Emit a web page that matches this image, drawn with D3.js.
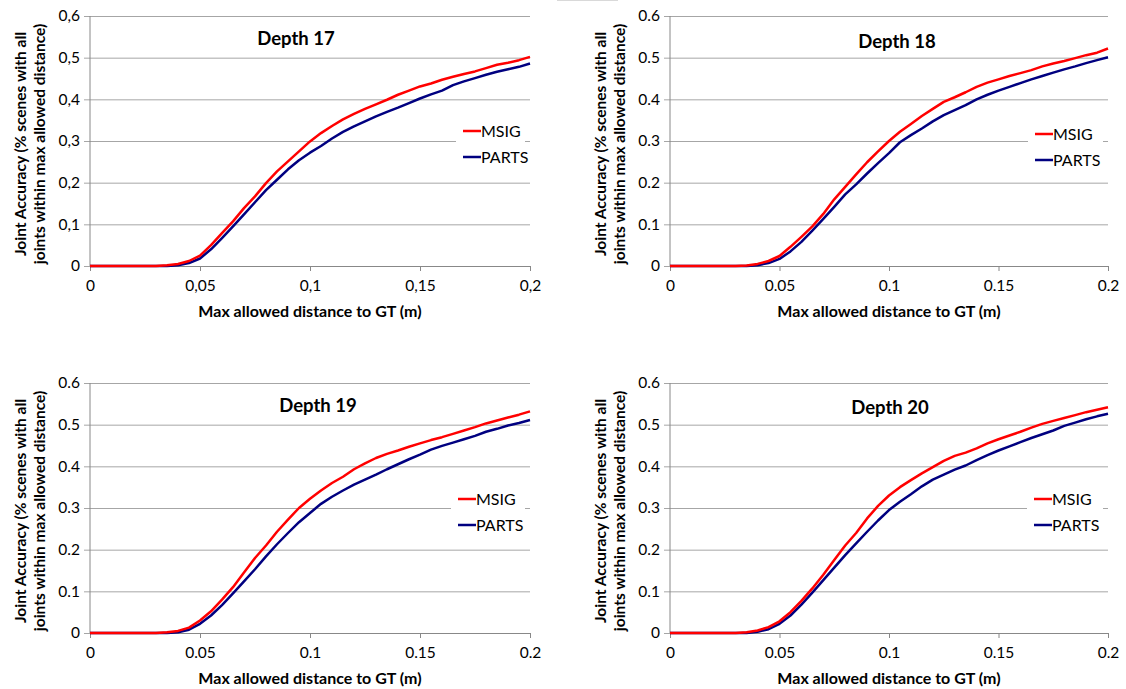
<!DOCTYPE html>
<html>
<head>
<meta charset="utf-8">
<script src="https://cdn.jsdelivr.net/npm/d3@7"></script>
<style>
  body { margin: 0; background: #fff; }
  svg { display: block; font-family: Lato, "Open Sans", sans-serif; }
</style>
</head>
<body>
<svg id="chart" width="1126" height="689"></svg>
<script>
// max allowed distance (m)
var distance = [0, 0.005, 0.01, 0.015, 0.02, 0.025, 0.03, 0.035, 0.04, 0.045,
  0.05, 0.055, 0.06, 0.065, 0.07, 0.075, 0.08, 0.085, 0.09, 0.095,
  0.1, 0.105, 0.11, 0.115, 0.12, 0.125, 0.13, 0.135, 0.14, 0.145,
  0.15, 0.155, 0.16, 0.165, 0.17, 0.175, 0.18, 0.185, 0.19, 0.195, 0.2];

var msig17 = [0, 0, 0, 0, 0, 0, 0, 0.002, 0.005, 0.012,
  0.025, 0.05, 0.079, 0.107, 0.139, 0.167, 0.199, 0.227, 0.251, 0.275,
  0.299, 0.319, 0.336, 0.352, 0.365, 0.377, 0.388, 0.399, 0.411, 0.421,
  0.431, 0.438, 0.447, 0.454, 0.461, 0.467, 0.475, 0.483, 0.488, 0.494, 0.502];
var parts17 = [0, 0, 0, 0, 0, 0, 0, 0, 0.002, 0.007,
  0.018, 0.04, 0.067, 0.095, 0.124, 0.153, 0.182, 0.207, 0.232, 0.254,
  0.272, 0.288, 0.306, 0.322, 0.335, 0.347, 0.359, 0.37, 0.38, 0.391,
  0.402, 0.412, 0.421, 0.434, 0.443, 0.451, 0.459, 0.466, 0.472, 0.478, 0.486];

var msig18 = [0, 0, 0, 0, 0, 0, 0, 0.001, 0.005, 0.012,
  0.024, 0.046, 0.07, 0.095, 0.125, 0.16, 0.19, 0.22, 0.249, 0.275,
  0.3, 0.322, 0.341, 0.36, 0.377, 0.394, 0.405, 0.417, 0.43, 0.44,
  0.448, 0.456, 0.463, 0.47, 0.479, 0.486, 0.492, 0.499, 0.506, 0.512, 0.522];
var parts18 = [0, 0, 0, 0, 0, 0, 0, 0, 0.002, 0.007,
  0.017, 0.035, 0.058, 0.085, 0.113, 0.142, 0.172, 0.196, 0.222, 0.247,
  0.271, 0.297, 0.314, 0.33, 0.347, 0.362, 0.374, 0.386, 0.4, 0.411,
  0.421, 0.43, 0.439, 0.448, 0.456, 0.464, 0.472, 0.479, 0.487, 0.494, 0.501];

var msig19 = [0, 0, 0, 0, 0, 0, 0, 0.002, 0.005, 0.013,
  0.03, 0.052, 0.08, 0.11, 0.145, 0.18, 0.21, 0.243, 0.272, 0.3,
  0.322, 0.342, 0.36, 0.375, 0.393, 0.407, 0.42, 0.43, 0.438, 0.447,
  0.455, 0.463, 0.47, 0.478, 0.486, 0.494, 0.503, 0.51, 0.517, 0.524, 0.532];
var parts19 = [0, 0, 0, 0, 0, 0, 0, 0, 0.002, 0.008,
  0.022, 0.042, 0.067, 0.095, 0.124, 0.153, 0.184, 0.213, 0.24, 0.266,
  0.288, 0.31, 0.327, 0.342, 0.356, 0.368, 0.38, 0.393, 0.405, 0.417,
  0.428, 0.44, 0.449, 0.457, 0.465, 0.473, 0.483, 0.49, 0.498, 0.504, 0.511];

var msig20 = [0, 0, 0, 0, 0, 0, 0, 0.002, 0.006, 0.014,
  0.028, 0.05, 0.077, 0.107, 0.14, 0.175, 0.21, 0.24, 0.275, 0.305,
  0.33, 0.35, 0.367, 0.383, 0.398, 0.413, 0.425, 0.433, 0.443, 0.455,
  0.465, 0.474, 0.483, 0.493, 0.502, 0.509, 0.516, 0.523, 0.53, 0.536, 0.542];
var parts20 = [0, 0, 0, 0, 0, 0, 0, 0, 0.003, 0.009,
  0.022, 0.042, 0.068, 0.097, 0.127, 0.157, 0.187, 0.215, 0.243, 0.27,
  0.295, 0.315, 0.333, 0.352, 0.368, 0.38, 0.392, 0.402, 0.415, 0.427,
  0.438, 0.448, 0.458, 0.468, 0.477, 0.486, 0.497, 0.505, 0.513, 0.52, 0.526];

var titles = ["Depth 17", "Depth 18", "Depth 19", "Depth 20"];
var seriesNames = ["MSIG", "PARTS"];
var seriesColors = ["#ff0000", "#000080"];
var xTicks = [0, 0.05, 0.1, 0.15, 0.2];
var yTicks = [0, 0.1, 0.2, 0.3, 0.4, 0.5, 0.6];

var svg = d3.select("#chart");

// faint bit of border at top middle
svg.append("line")
   .attr("x1", 557).attr("x2", 618).attr("y1", 0.5).attr("y2", 0.5)
   .style("stroke", "#d9d9d9");

var panels = [
  {left: 90, right: 530, top: 16, bottom: 266, comma: true,
   titleX: 296, titleY: 45, legX: 463, legY: 131, msig: msig17, parts: parts17},
  {left: 670, right: 1108, top: 16, bottom: 266, comma: false,
   titleX: 897, titleY: 48, legX: 1035, legY: 134, msig: msig18, parts: parts18},
  {left: 90, right: 530, top: 383, bottom: 633, comma: false,
   titleX: 318, titleY: 412, legX: 458, legY: 499, msig: msig19, parts: parts19},
  {left: 670, right: 1108, top: 383, bottom: 633, comma: false,
   titleX: 890, titleY: 414, legX: 1034, legY: 499, msig: msig20, parts: parts20}
];

panels.forEach(function(p, i) {
  drawPanel(p, titles[i]);
});

function drawPanel(p, title) {
  var x = d3.scaleLinear().domain([0, 0.2]).range([p.left, p.right]);
  var y = d3.scaleLinear().domain([0, 0.6]).range([p.bottom, p.top]);
  var fmt = function(d) {
    var s = String(d);
    return p.comma ? s.replace(".", ",") : s;
  };

  var g = svg.append("g");

  // gridlines + y ticks
  var yAxis = d3.axisLeft(y).tickValues(yTicks).tickFormat(fmt)
    .tickSize(-(p.right - p.left)).tickPadding(10);
  var ya = g.append("g")
    .attr("transform", "translate(" + p.left + ",0)")
    .call(yAxis);
  ya.select(".domain").remove();
  ya.selectAll(".tick line")
    .attr("x1", -6)
    .style("stroke", "#a6a6a6");
  ya.selectAll(".tick text")
    .style("font-size", "15.5px").style("fill", "#000")
    .style("font-family", "Lato, sans-serif");

  // left axis line
  g.append("line")
   .attr("x1", p.left).attr("x2", p.left)
   .attr("y1", p.top).attr("y2", p.bottom)
   .style("stroke", "#888");

  // x axis
  var xAxis = d3.axisBottom(x).tickValues(xTicks).tickFormat(fmt)
    .tickSize(5).tickPadding(9).tickSizeOuter(0);
  var xa = g.append("g")
    .attr("transform", "translate(0," + p.bottom + ")")
    .call(xAxis);
  xa.select(".domain").style("stroke", "#888");
  xa.selectAll(".tick line").style("stroke", "#888");
  xa.selectAll(".tick text")
    .style("font-size", "15.5px").style("fill", "#000")
    .style("font-family", "Lato, sans-serif");

  // legend background cuts the gridline
  g.append("rect")
   .attr("x", p.legX - 7).attr("y", p.legY - 14)
   .attr("width", p.right - p.legX + 2).attr("height", 44)
   .style("fill", "#fff");

  var line = d3.line()
    .x(function(d, k) { return x(distance[k]); })
    .y(function(d) { return y(d); });

  [p.parts, p.msig].forEach(function(vals, k) {
    g.append("path")
     .datum(vals)
     .attr("d", line)
     .style("fill", "none")
     .style("stroke", seriesColors[1 - k])
     .style("stroke-width", 2.5)
     .style("stroke-linejoin", "round");
  });

  seriesNames.forEach(function(name, k) {
    var ly = p.legY + k * 26;
    g.append("line")
     .attr("x1", p.legX).attr("x2", p.legX + 18)
     .attr("y1", ly).attr("y2", ly)
     .style("stroke", seriesColors[k])
     .style("stroke-width", 2.5);
    g.append("text")
     .text(name)
     .attr("x", p.legX + 18)
     .attr("y", ly + 6)
     .style("font-size", "16px");
  });

  g.append("text")
   .text(title)
   .attr("x", p.titleX)
   .attr("y", p.titleY)
   .attr("text-anchor", "middle")
   .style("font", "bold 18.5px Lato, sans-serif");

  g.append("text")
   .text("Max allowed distance to GT (m)")
   .attr("x", (p.left + p.right) / 2)
   .attr("y", p.bottom + 51)
   .attr("text-anchor", "middle")
   .style("font", "bold 16px Lato, sans-serif");

  var cy = (p.top + p.bottom) / 2 + 3;
  var ylab = g.append("text")
   .attr("transform", "translate(" + (p.left - 64) + "," + cy + ") rotate(-90)")
   .attr("text-anchor", "middle")
   .style("font", "bold 15.5px Lato, sans-serif");
  ylab.append("tspan").attr("x", 0).attr("dy", 0)
      .text("Joint Accuracy (% scenes with all");
  ylab.append("tspan").attr("x", 0).attr("dy", 19)
      .text("joints within max allowed distance)");
}
</script>
</body>
</html>
